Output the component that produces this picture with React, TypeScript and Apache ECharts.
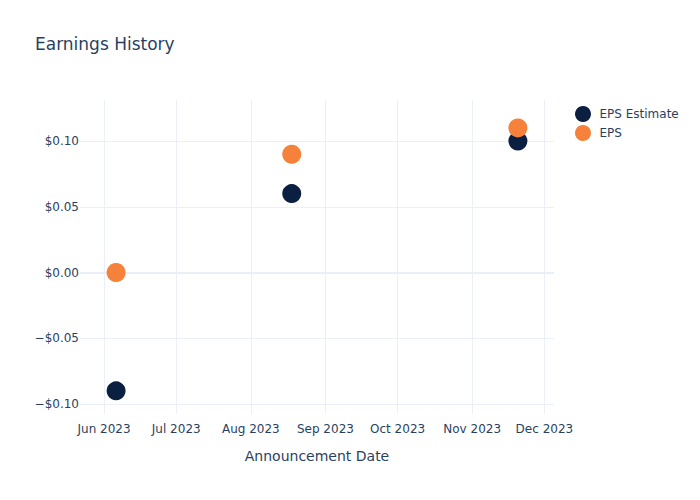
import React, { useEffect, useRef } from "react";
import * as echarts from "echarts";

const dates = ["2023-06-06", "2023-08-18", "2023-11-20"];
const epsEstimate = [-0.09, 0.06, 0.1];
const epsActual = [0.0, 0.09, 0.11];
const yTicks = [-0.1, -0.05, 0, 0.05, 0.1];
const monthTicks = ["2023-06-01", "2023-07-01", "2023-08-01", "2023-09-01", "2023-10-01", "2023-11-01", "2023-12-01"];
const monthNames = ["Jan", "Feb", "Mar", "Apr", "May", "Jun", "Jul", "Aug", "Sep", "Oct", "Nov", "Dec"];

const ts = (s: string) => {
  const [y, m, d] = s.split("-").map(Number);
  return Date.UTC(y, m - 1, d);
};

const FONT = "DejaVu Sans";
const TXT = "#2a3f5f";
const GRID = "#ebf0f8";

export default function App() {
  const ref = useRef<HTMLDivElement>(null);
  useEffect(() => {
    document.body.style.margin = "0";
    if (!ref.current) return;
    const chart = echarts.init(ref.current, undefined, { renderer: "svg" });
    chart.setOption({
      animation: false,
      backgroundColor: "#fff",
      textStyle: { fontFamily: FONT },
      title: {
        text: "Earnings History",
        left: 35,
        top: 35,
        padding: 0,
        textStyle: { fontFamily: FONT, fontSize: 17, fontWeight: "normal", color: TXT },
      },
      legend: {
        orient: "vertical",
        left: 575,
        top: 106,
        padding: 0,
        icon: "circle",
        itemWidth: 23,
        itemHeight: 16,
        itemGap: 3,
        textStyle: { fontFamily: FONT, fontSize: 12, color: TXT },
        data: ["EPS Estimate", "EPS"],
      },
      grid: { left: 80, right: 146, top: 100, bottom: 86 },
      xAxis: {
        type: "value",
        min: ts("2023-05-22"),
        max: ts("2023-12-05"),
        name: "Announcement Date",
        nameLocation: "middle",
        nameGap: 35,
        nameTextStyle: { fontFamily: FONT, fontSize: 14, color: TXT },
        axisLine: { show: false },
        axisTick: { show: false, customValues: monthTicks.map(ts) },
        axisLabel: {
          customValues: monthTicks.map(ts),
          fontFamily: FONT,
          fontSize: 12,
          color: TXT,
          margin: 9,
          formatter: (v: number) => {
            const d = new Date(v);
            return `${monthNames[d.getUTCMonth()]} ${d.getUTCFullYear()}`;
          },
        },
        splitLine: { show: true, lineStyle: { color: GRID, width: 1 } },
      },
      yAxis: {
        type: "value",
        min: -0.1076,
        max: 0.1312,
        axisLine: { show: false },
        axisTick: { show: false, customValues: yTicks },
        axisLabel: {
          customValues: yTicks,
          fontFamily: FONT,
          fontSize: 12,
          color: TXT,
          margin: 1,
          formatter: (v: number) => {
            const a = Math.abs(v).toFixed(2);
            return (v < -1e-9 ? "\u2212$" : "$") + a;
          },
        },
        splitLine: { show: true, lineStyle: { color: GRID, width: 1 } },
      },
      series: [
        {
          name: "EPS Estimate",
          type: "scatter",
          symbolSize: 19,
          itemStyle: { color: "#0b1f40", opacity: 1 },
          data: dates.map((d, i) => [ts(d), epsEstimate[i]]),
          markLine: {
            silent: true,
            symbol: "none",
            label: { show: false },
            lineStyle: { color: GRID, width: 2, type: "solid" },
            data: [{ yAxis: 0 }],
            z: 0,
          },
          z: 2,
        },
        {
          name: "EPS",
          type: "scatter",
          symbolSize: 19,
          itemStyle: { color: "#f5813a", opacity: 1 },
          data: dates.map((d, i) => [ts(d), epsActual[i]]),
          z: 3,
        },
      ],
    });
    return () => chart.dispose();
  }, []);
  return <div ref={ref} style={{ width: 700, height: 500 }} />;
}
